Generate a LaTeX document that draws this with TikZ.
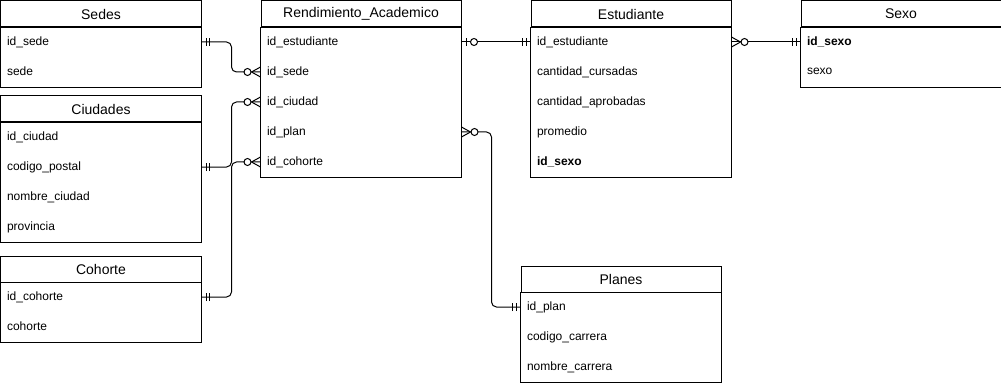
\documentclass[tikz,border=0pt]{standalone}
\usepackage{fontspec}
\setmainfont{Liberation Sans}
\usetikzlibrary{positioning,decorations.markings}

\tikzset{
  entity/.style={draw, anchor=north west, minimum width=200pt, minimum height=26pt,
    inner sep=0pt, font=\fontsize{14pt}{16pt}\selectfont},
  attr/.style={anchor=north west, minimum width=200pt, minimum height=30pt,
    inner xsep=6pt, inner ysep=0pt, text width=188pt, align=left,
    font=\fontsize{12pt}{14pt}\selectfont},
  rel/.style={rounded corners=5pt},
  % cardinality marks, start of the path
  one start/.style={postaction={decorate, decoration={markings,
    mark=at position 0 with {\draw (4.5pt,-4pt) -- (4.5pt,4pt) (8pt,-4pt) -- (8pt,4pt);}}}},
  zero one start/.style={postaction={decorate, decoration={markings,
    mark=at position 0 with {\draw (5pt,-4pt) -- (5pt,4pt);
      \draw[fill=white] (12.5pt,0) circle (3.5pt);}}}},
  many start/.style={postaction={decorate, decoration={markings,
    mark=at position 0 with {\draw (9pt,0) -- (0,5pt) (9pt,0) -- (0,-5pt);
      \draw[fill=white] (13pt,0) circle (3.5pt);}}}},
  % cardinality marks, end of the path
  one end/.style={postaction={decorate, decoration={markings,
    mark=at position 1 with {\draw (-4.5pt,-4pt) -- (-4.5pt,4pt) (-8pt,-4pt) -- (-8pt,4pt);}}}},
  many end/.style={postaction={decorate, decoration={markings,
    mark=at position 1 with {\draw (-9pt,0) -- (0,5pt) (-9pt,0) -- (0,-5pt);
      \draw[fill=white] (-13pt,0) circle (3.5pt);}}}},
}

\begin{document}
\begin{tikzpicture}[x=1pt, y=-1pt, line width=1pt]
\useasboundingbox (-0.5,-0.5) rectangle (1000.5,384.5);

% Sedes
\node[entity] (sedes) at (0,0) {Sedes};
\foreach \f [count=\i] in {id\_sede, sede}
  \node[attr] (sedes-\i) at (0,30*\i-4) {\raisebox{1.5pt}{\f}};
\draw (sedes.south west) rectangle (sedes-2.south east);

% Ciudades
\node[entity] (ciudades) at (0,95) {Ciudades};
\foreach \f [count=\i] in {id\_ciudad, codigo\_postal, nombre\_ciudad, provincia}
  \node[attr] (ciudades-\i) at (0,95+30*\i-4) {\raisebox{1.5pt}{\f}};
\draw (ciudades.south west) rectangle (ciudades-4.south east);

% Cohorte
\node[entity] (cohorte) at (0,255) {Cohorte};
\foreach \f [count=\i] in {id\_cohorte, cohorte}
  \node[attr] (cohorte-\i) at (0,255+30*\i-4) {\raisebox{1.5pt}{\f}};
\draw (cohorte.south west) rectangle (cohorte-2.south east);

% Rendimiento_Academico
\node[entity] (rend) at (260,0) {Rendimiento\_Academico};
\foreach \f [count=\i] in {id\_estudiante, id\_sede, id\_ciudad, id\_plan, id\_cohorte}
  \node[attr] (rend-\i) at (260,30*\i-4) {\raisebox{1.5pt}{\f}};
\draw (rend.south west) rectangle (rend-5.south east);

% Estudiante
\node[entity] (estudiante) at (530,0) {Estudiante};
\foreach \f [count=\i] in {id\_estudiante, cantidad\_cursadas, cantidad\_aprobadas, promedio, \textbf{id\_sexo}}
  \node[attr] (estudiante-\i) at (530,30*\i-4) {\raisebox{1.5pt}{\f}};
\draw (estudiante.south west) rectangle (estudiante-5.south east);

% Sexo
\node[entity] (sexo) at (800,0) {Sexo};
\foreach \f [count=\i] in {\textbf{id\_sexo}, sexo}
  \node[attr] (sexo-\i) at (800,30*\i-4) {\raisebox{1.5pt}{\f}};
\draw (sexo.south west) rectangle (sexo-2.south east);

% Planes
\node[entity] (planes) at (520,265) {Planes};
\foreach \f [count=\i] in {id\_plan, codigo\_carrera, nombre\_carrera}
  \node[attr] (planes-\i) at (520,265+30*\i-4) {\raisebox{1.5pt}{\f}};
\draw (planes.south west) rectangle (planes-3.south east);

% relationships
\draw[rel, one start, many end] (sedes-1.east) -- ++(30,0) |- (rend-2.west);
\draw[rel, one start, many end] (ciudades-2.east) -- ++(30,0) |- (rend-3.west);
\draw[rel, one start, many end] (cohorte-1.east) -- ++(30,0) |- (rend-5.west);
\draw[rel, zero one start, one end] (rend-1.east) -- (estudiante-1.west);
\draw[rel, many start, one end] (estudiante-1.east) -- (sexo-1.west);
\draw[rel, many start, one end] (rend-4.east) -- ++(30,0) |- (planes-1.west);

\end{tikzpicture}
\end{document}
